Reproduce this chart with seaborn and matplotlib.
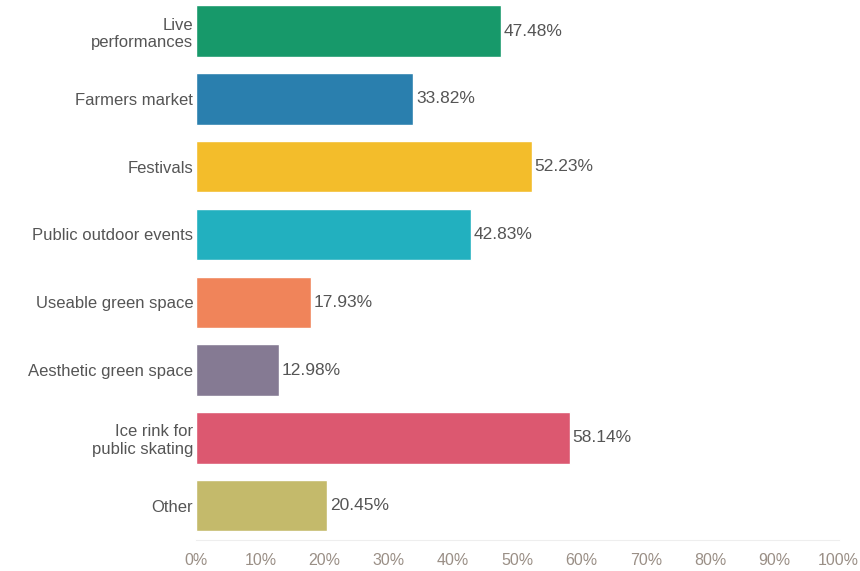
import matplotlib
matplotlib.use("Agg")
import matplotlib.pyplot as plt
import seaborn as sns
import pandas as pd

categories = ["Live\nperformances", "Farmers market", "Festivals",
              "Public outdoor events", "Useable green space",
              "Aesthetic green space", "Ice rink for\npublic skating", "Other"]
values = [47.48, 33.82, 52.23, 42.83, 17.93, 12.98, 58.14, 20.45]
colors = ["#17996a", "#2a7fae", "#f3bd2b", "#22b0bf", "#f0845a",
          "#857a93", "#dc5870", "#c4ba6b"]
xticks = [0, 10, 20, 30, 40, 50, 60, 70, 80, 90, 100]

df = pd.DataFrame({"category": categories, "value": values})

sns.set_style("white")
plt.rcParams["font.family"] = ["Liberation Sans", "DejaVu Sans"]

fig = plt.figure(figsize=(8.6, 5.71), dpi=100)
ax = fig.add_axes([0.228, 0.055, 0.747, 0.95])

sns.barplot(data=df, x="value", y="category", hue="category",
            palette=colors, legend=False, width=0.76, saturation=1, ax=ax)

for i, v in enumerate(values):
    ax.text(v + 0.4, i, f"{v:.2f}%", va="center", ha="left",
            fontsize=12.5, color="#555555")

ax.set_xlim(0, 100)
ax.set_ylim(7.5, -0.5)
ax.set_xticks(xticks)
ax.set_xticklabels([f"{t}%" for t in xticks], fontsize=11.5, color="#9a8f86")
ax.tick_params(axis="y", labelsize=12, labelcolor="#555555", length=0, pad=2)
ax.tick_params(axis="x", length=0, pad=10)
ax.set_xlabel("")
ax.set_ylabel("")
for s in ["top", "right", "left"]:
    ax.spines[s].set_visible(False)
ax.spines["bottom"].set_color("#eeeeee")

fig.savefig("out.png", dpi=100)
